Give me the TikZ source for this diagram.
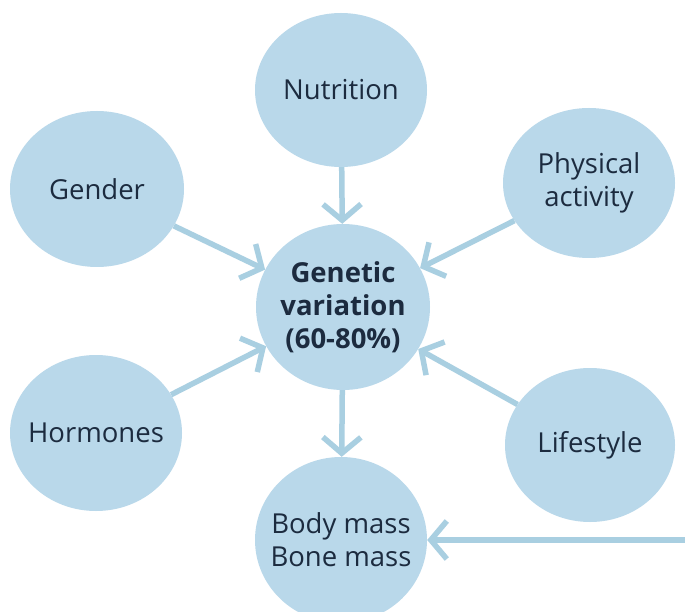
\documentclass[tikz,border=0pt]{standalone}
\usepackage{fontspec}
\setmainfont{Open Sans}
\usetikzlibrary{shapes.geometric,arrows.meta}
\definecolor{bubble}{HTML}{B9D8EA}
\definecolor{arrowc}{HTML}{A9CFE1}
\definecolor{ink}{HTML}{1C2B3F}
\begin{document}
\begin{tikzpicture}[x=1pt,y=-1pt,
  bub/.style={ellipse, fill=bubble, draw=none, inner sep=0pt},
  txt/.style={text=ink, font=\fontsize{27.5}{33}\selectfont, align=center},
  arr/.style={draw=arrowc, line width=5.5pt,
    -{Straight Barb[length=16pt,width=38pt,line width=5.5pt]}}]
\useasboundingbox[fill=white] (0,0) rectangle (685,612);
\node[bub, minimum width=172pt, minimum height=154pt,
  label={[txt]center:Nutrition}] (nut) at (341,90) {};
\node[bub, minimum width=174pt, minimum height=156pt,
  label={[txt]center:Gender}] (gen) at (97,189) {};
\node[bub, minimum width=172pt, minimum height=150pt,
  label={[txt]center:{Physical\\activity}}] (phy) at (589,183) {};
\node[bub, minimum width=174pt, minimum height=166pt,
  label={[txt,font=\fontsize{27.5}{33}\selectfont\bfseries]center:{Genetic\\variation\\(60-80\%)}}] (genv) at (343,307) {};
\node[bub, minimum width=172pt, minimum height=156pt,
  label={[txt]center:Hormones}] (hor) at (96,433) {};
\node[bub, minimum width=170pt, minimum height=154pt,
  label={[txt]center:Lifestyle}] (life) at (590,445) {};
\node[bub, minimum width=172pt, minimum height=166pt,
  label={[txt]center:{Body mass\\Bone mass}}] (body) at (341,540) {};
\coordinate (rightend) at (690,540);
\draw[arr] (nut) -- (genv);
\draw[arr] (gen) -- (genv);
\draw[arr] (phy) -- (genv);
\draw[arr] (hor) -- (genv);
\draw[arr] (life) -- (genv);
\draw[arr] (genv) -- (body);
\draw[arr] (rightend) -- (body);
\end{tikzpicture}
\end{document}
